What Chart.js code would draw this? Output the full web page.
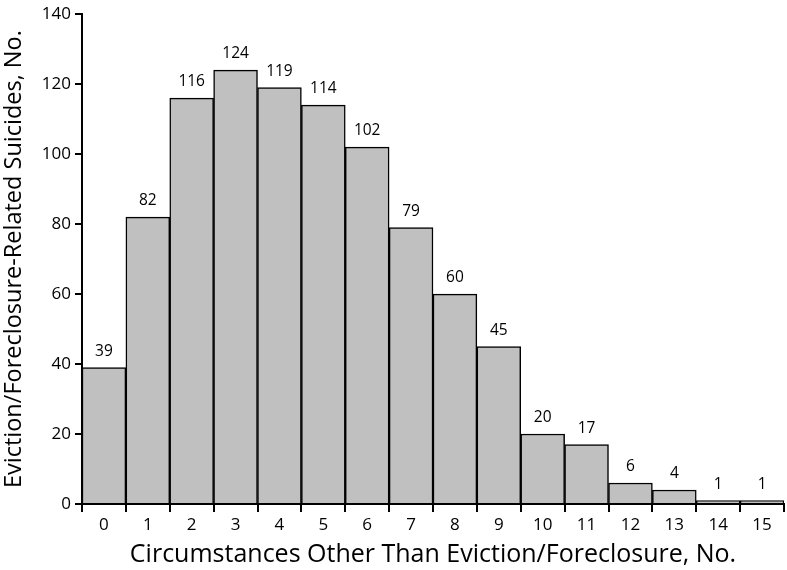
<!DOCTYPE html>
<html>
<head>
<meta charset="utf-8">
<script src="https://cdn.jsdelivr.net/npm/chart.js@4/dist/chart.umd.min.js"></script>
<style>
  html, body { margin: 0; padding: 0; background: #fff; }
  #wrap { width: 787px; height: 570px; }
</style>
</head>
<body>
<div id="wrap"><canvas id="hist"></canvas></div>
<script>
var categories = ["0", "1", "2", "3", "4", "5", "6", "7", "8", "9", "10", "11", "12", "13", "14", "15"];
var suicides = [39, 82, 116, 124, 119, 114, 102, 79, 60, 45, 20, 17, 6, 4, 1, 1];
var yTicks = [0, 20, 40, 60, 80, 100, 120, 140];

var fontFamily = "'Open Sans', 'Liberation Sans', sans-serif";

// numbers above each bar
var barLabels = {
  id: 'barLabels',
  afterDatasetsDraw: function(chart) {
    var ctx = chart.ctx;
    var meta = chart.getDatasetMeta(0);
    ctx.save();
    ctx.fillStyle = '#000';
    ctx.font = '15.5px ' + fontFamily;
    ctx.textAlign = 'center';
    ctx.textBaseline = 'alphabetic';
    meta.data.forEach(function(bar, i) {
      ctx.fillText(suicides[i], bar.x, bar.y - 12);
    });
    ctx.restore();
  }
};

var ctx = document.getElementById('hist').getContext('2d');
var chart = new Chart(ctx, {
  type: 'bar',
  data: {
    labels: categories,
    datasets: [{
      data: suicides,
      backgroundColor: '#c0c0c0',
      borderColor: '#000',
      borderWidth: 1.5,
      barPercentage: 1,
      categoryPercentage: 1
    }]
  },
  options: {
    responsive: true,
    maintainAspectRatio: false,
    animation: false,
    layout: { padding: { top: 8, right: 3, left: 0, bottom: 0 } },
    plugins: {
      legend: { display: false },
      tooltip: { enabled: false }
    },
    scales: {
      x: {
        offset: true,
        grid: {
          offset: true,
          drawOnChartArea: false,
          drawTicks: true,
          tickLength: 8,
          color: '#000',
          lineWidth: 2
        },
        border: { display: true, color: '#000', width: 2 },
        ticks: {
          color: '#000',
          font: { size: 17, family: fontFamily },
          padding: 3,
          maxRotation: 0
        },
        title: {
          display: true,
          text: 'Circumstances Other Than Eviction/Foreclosure, No.',
          color: '#000',
          font: { size: 25, family: fontFamily },
          padding: { top: 1, bottom: 0 }
        },
        afterFit: function(scale) { scale.height = 66; }
      },
      y: {
        min: 0,
        max: 140,
        afterBuildTicks: function(scale) {
          scale.ticks = yTicks.map(function(v) { return { value: v }; });
        },
        grid: {
          drawOnChartArea: false,
          drawTicks: true,
          tickLength: 7,
          color: '#000',
          lineWidth: 2
        },
        border: { display: true, color: '#000', width: 2 },
        ticks: {
          color: '#000',
          font: { size: 17, family: fontFamily },
          padding: 4
        },
        title: {
          display: true,
          text: 'Eviction/Foreclosure-Related Suicides, No.',
          color: '#000',
          font: { size: 23.5, family: fontFamily },
          padding: { top: 0, bottom: 3 }
        },
        afterFit: function(scale) { scale.width = 82; }
      }
    }
  },
  plugins: [barLabels]
});
</script>
</body>
</html>
